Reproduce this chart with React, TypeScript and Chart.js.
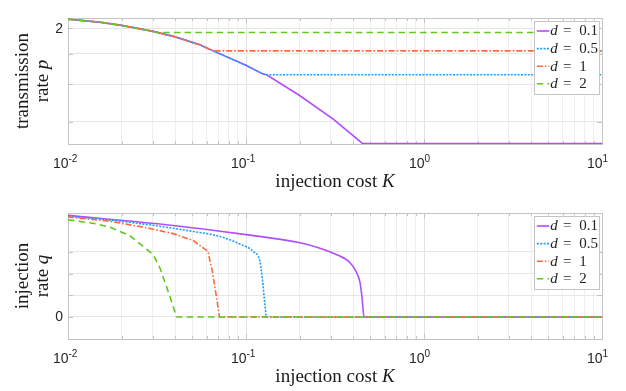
import React, { useEffect, useRef } from 'react';
import { Chart, registerables } from 'chart.js';

Chart.register(...registerables);

// ---------- data ----------
const dLabels = ['0.1', '0.5', '1', '2'];
const seriesColors = ['#b04dff', '#1a9fff', '#ff6a3a', '#62c81e'];
const seriesDashes: number[][] = [[], [2, 1.4], [6, 2, 1.6, 2], [6.5, 4.2]];

// x axis (injection cost K), log scale
const xDecades = [0.01, 0.1, 1, 10];
const xDecadeExponents = ['-2', '-1', '0', '1'];

// top panel: transmission rate p
const pTicks = [1.1, 1.4, 1.7, 2];
const pTickLabels = ['', '', '', '2'];
const pK_d01 = [0.01, 0.015, 0.02, 0.0301, 0.04, 0.0551, 0.0654, 0.0986, 0.125, 0.1306, 0.201, 0.309, 0.447, 0.451, 10];
const pV_d01 = [2.121, 2.081, 2.039, 1.962, 1.894, 1.8, 1.732, 1.584, 1.493, 1.487, 1.3, 1.119, 0.962, 0.957, 0.957];
const pK_d05 = [0.01, 0.015, 0.02, 0.0301, 0.04, 0.0551, 0.0654, 0.0986, 0.125, 0.1306, 10];
const pV_d05 = [2.121, 2.081, 2.039, 1.962, 1.894, 1.8, 1.732, 1.584, 1.493, 1.487, 1.487];
const pK_d1 = [0.01, 0.015, 0.02, 0.0301, 0.04, 0.0551, 0.0654, 10];
const pV_d1 = [2.121, 2.081, 2.039, 1.962, 1.894, 1.8, 1.732, 1.732];
const pK_d2 = [0.01, 0.015, 0.02, 0.0301, 0.0314, 10];
const pV_d2 = [2.121, 2.081, 2.039, 1.962, 1.948, 1.948];

// bottom panel: injection rate q
const qTicks = [0, 0.1, 0.2, 0.3];
const qTickLabels = ['0', '', '', ''];
const qK_d01 = [0.01, 0.0328, 0.1051, 0.201, 0.2604, 0.3232, 0.3841, 0.4188, 0.4371, 0.4486, 0.4603, 10];
const qV_d01 = [0.468, 0.428, 0.377, 0.342, 0.317, 0.287, 0.25, 0.204, 0.158, 0.089, 0, 0];
const qK_d05 = [0.01, 0.0213, 0.0505, 0.0713, 0.0924, 0.1098, 0.1197, 0.1234, 0.1277, 0.1306, 10];
const qV_d05 = [0.464, 0.438, 0.394, 0.371, 0.336, 0.302, 0.256, 0.18, 0.057, 0, 0];
const qK_d1 = [0.01, 0.01716, 0.028, 0.03897, 0.0505, 0.0611, 0.0647, 0.0686, 0.0709, 10];
const qV_d1 = [0.461, 0.441, 0.41, 0.384, 0.352, 0.302, 0.21, 0.08, 0, 0];
const qK_d2 = [0.01, 0.01444, 0.01716, 0.02223, 0.0301, 0.0328, 0.03544, 0.03733, 0.0407, 10];
const qV_d2 = [0.448, 0.429, 0.414, 0.375, 0.287, 0.227, 0.149, 0.096, 0, 0];

// ---------- styling ----------
const SERIF = '"Liberation Serif", "Times New Roman", serif';
const SANS = '"Liberation Sans", Arial, sans-serif';
const BOX = '#c4c4c4';

type Part = { t: string; it?: boolean };

function drawParts(ctx: CanvasRenderingContext2D, parts: Part[], size: number, x: number, y: number) {
  let total = 0;
  const widths = parts.map((p) => {
    ctx.font = `${p.it ? 'italic ' : ''}${size}px ${SERIF}`;
    const w = ctx.measureText(p.t).width;
    total += w;
    return w;
  });
  let cx = x - total / 2;
  ctx.textAlign = 'left';
  ctx.textBaseline = 'alphabetic';
  parts.forEach((p, i) => {
    ctx.font = `${p.it ? 'italic ' : ''}${size}px ${SERIF}`;
    ctx.fillText(p.t, cx, y);
    cx += widths[i];
  });
}

function buildLogTicks() {
  const out: { value: number }[] = [];
  for (let i = 0; i < xDecades.length - 1; i++) {
    for (let m = 1; m <= 9; m++) out.push({ value: m * xDecades[i] });
  }
  out.push({ value: xDecades[xDecades.length - 1] });
  return out;
}

function isMajor(v: number) {
  const l = Math.log10(v);
  return Math.abs(l - Math.round(l)) < 1e-6;
}

function makeDecor(yTicks: number[], yTickLabels: string[], yTitle: Part[][]) {
  return {
    id: 'decor',
    beforeDatasetsDraw(chart: any) {
      const { ctx, chartArea: a, scales } = chart;
      ctx.save();
      ctx.strokeStyle = BOX;
      ctx.lineWidth = 1;
      ctx.beginPath();
      buildLogTicks().forEach((t) => {
        const x = Math.round(scales.x.getPixelForValue(t.value)) + 0.5;
        const len = isMajor(t.value) ? 5 : 3;
        ctx.moveTo(x, a.bottom);
        ctx.lineTo(x, a.bottom - len);
        ctx.moveTo(x, a.top);
        ctx.lineTo(x, a.top + len);
      });
      yTicks.forEach((v) => {
        const y = Math.round(scales.y.getPixelForValue(v)) + 0.5;
        ctx.moveTo(a.left, y);
        ctx.lineTo(a.left + 5, y);
        ctx.moveTo(a.right, y);
        ctx.lineTo(a.right - 5, y);
      });
      ctx.stroke();
      ctx.strokeRect(Math.round(a.left) + 0.5, Math.round(a.top) + 0.5, Math.round(a.right - a.left), Math.round(a.bottom - a.top));
      ctx.restore();
    },
    afterDatasetsDraw(chart: any) {
      const { ctx, chartArea: a } = chart;
      const w = 65;
      const h = 73;
      const lx = a.right - 2.7 - w;
      const ly = a.top + 2.7;
      ctx.save();
      ctx.fillStyle = '#ffffff';
      ctx.fillRect(lx, ly, w, h);
      ctx.strokeStyle = BOX;
      ctx.lineWidth = 1;
      ctx.strokeRect(Math.round(lx) + 0.5, Math.round(ly) + 0.5, w, h);
      dLabels.forEach((lab, i) => {
        const y = ly + 10.3 + i * 17.6;
        ctx.strokeStyle = seriesColors[i];
        ctx.lineWidth = 1.6;
        ctx.setLineDash(seriesDashes[i]);
        ctx.beginPath();
        ctx.moveTo(lx + 2.5, y);
        ctx.lineTo(lx + 15, y);
        ctx.stroke();
        ctx.setLineDash([]);
        ctx.fillStyle = '#222222';
        ctx.textBaseline = 'middle';
        ctx.textAlign = 'left';
        ctx.font = `italic 15px ${SERIF}`;
        ctx.fillText('d', lx + 16, y + 0.5);
        ctx.font = `15px ${SERIF}`;
        ctx.textAlign = 'center';
        ctx.fillText('=', lx + 33, y + 0.5);
        ctx.textAlign = 'left';
        ctx.fillText(lab, lx + 45, y + 0.5);
      });
      ctx.restore();
    },
    afterDraw(chart: any) {
      const { ctx, chartArea: a, scales } = chart;
      ctx.save();
      ctx.fillStyle = '#262626';
      xDecades.forEach((v, i) => {
        const x = scales.x.getPixelForValue(v);
        ctx.textBaseline = 'alphabetic';
        ctx.font = `14px ${SANS}`;
        ctx.textAlign = 'right';
        ctx.fillText('10', x + 0.5, a.bottom + 24);
        ctx.font = `10px ${SANS}`;
        ctx.textAlign = 'left';
        ctx.fillText(xDecadeExponents[i], x + 0.5, a.bottom + 18);
      });
      yTicks.forEach((v, i) => {
        if (!yTickLabels[i]) return;
        const y = scales.y.getPixelForValue(v);
        ctx.font = `14px ${SANS}`;
        ctx.textAlign = 'right';
        ctx.textBaseline = 'middle';
        ctx.fillText(yTickLabels[i], a.left - 5, y + 0.5);
      });
      ctx.fillStyle = '#1a1a1a';
      drawParts(ctx, [{ t: 'injection cost ' }, { t: 'K', it: true }], 19, (a.left + a.right) / 2, a.bottom + 43);
      const cy = (a.top + a.bottom) / 2;
      const xs = [28.3, 47.5];
      yTitle.forEach((parts, i) => {
        ctx.save();
        ctx.translate(xs[i], cy);
        ctx.rotate(-Math.PI / 2);
        drawParts(ctx, parts, 19, 0, 0);
        ctx.restore();
      });
      ctx.restore();
    },
  };
}

function makeDatasets(ks: number[][], vs: number[][], smooth: boolean[]) {
  return ks.map((k, i) => ({
    label: 'd = ' + dLabels[i],
    data: k.map((x, j) => ({ x, y: vs[i][j] })),
    borderColor: seriesColors[i],
    borderWidth: 1.6,
    borderDash: seriesDashes[i],
    pointRadius: 0,
    tension: smooth[i] ? 0.4 : 0,
    cubicInterpolationMode: smooth[i] ? ('monotone' as const) : ('default' as const),
    fill: false,
    order: 4 - i,
  }));
}

function makeConfig(
  datasets: any[],
  yType: 'logarithmic' | 'linear',
  yMin: number,
  yMax: number,
  yTicks: number[],
  padding: any,
  plugin: any
) {
  return {
    type: 'line' as const,
    data: { datasets },
    options: {
      responsive: false,
      animation: false as const,
      devicePixelRatio: 1,
      layout: { padding },
      plugins: { legend: { display: false }, tooltip: { enabled: false } },
      scales: {
        x: {
          type: 'logarithmic' as const,
          min: 0.01,
          max: 10,
          afterBuildTicks: (s: any) => {
            s.ticks = buildLogTicks();
          },
          afterFit: (s: any) => {
            s.height = 0;
          },
          ticks: { display: false },
          border: { display: false },
          grid: {
            drawTicks: false,
            lineWidth: 1,
            color: (c: any) => (c.tick && isMajor(c.tick.value) ? '#e2e2e2' : '#efefef'),
          },
        },
        y: {
          type: yType,
          min: yMin,
          max: yMax,
          afterBuildTicks: (s: any) => {
            s.ticks = yTicks.map((v) => ({ value: v }));
          },
          afterFit: (s: any) => {
            s.width = 0;
          },
          ticks: { display: false },
          border: { display: false },
          grid: { drawTicks: false, lineWidth: 1, color: '#e6e6e6' },
        },
      },
    },
    plugins: [plugin],
  };
}

function Panel(props: { which: 'p' | 'q'; height: number }) {
  const ref = useRef<HTMLCanvasElement | null>(null);
  useEffect(() => {
    if (!ref.current) return;
    let cfg: any;
    if (props.which === 'p') {
      cfg = makeConfig(
        makeDatasets([pK_d01, pK_d05, pK_d1, pK_d2], [pV_d01, pV_d05, pV_d1, pV_d2], [false, false, false, false]),
        'logarithmic',
        0.955,
        2.137,
        pTicks,
        { left: 68, right: 24, top: 18, bottom: 51 },
        makeDecor(pTicks, pTickLabels, [[{ t: 'transmission' }], [{ t: 'rate ' }, { t: 'p', it: true }]])
      );
    } else {
      cfg = makeConfig(
        makeDatasets([qK_d01, qK_d05, qK_d1, qK_d2], [qV_d01, qV_d05, qV_d1, qV_d2], [true, true, false, false]),
        'linear',
        -0.1014,
        0.479,
        qTicks,
        { left: 68, right: 24, top: 18, bottom: 52 },
        makeDecor(qTicks, qTickLabels, [[{ t: 'injection' }], [{ t: 'rate ' }, { t: 'q', it: true }]])
      );
    }
    const chart = new Chart(ref.current, cfg);
    return () => chart.destroy();
  }, [props.which]);
  return <canvas ref={ref} width={626} height={props.height} style={{ display: 'block', width: 626, height: props.height }} />;
}

export default function App() {
  return (
    <div style={{ position: 'fixed', left: 0, top: 0, width: 626, height: 391, background: '#ffffff' }}>
      <Panel which="p" height={195} />
      <Panel which="q" height={196} />
    </div>
  );
}
